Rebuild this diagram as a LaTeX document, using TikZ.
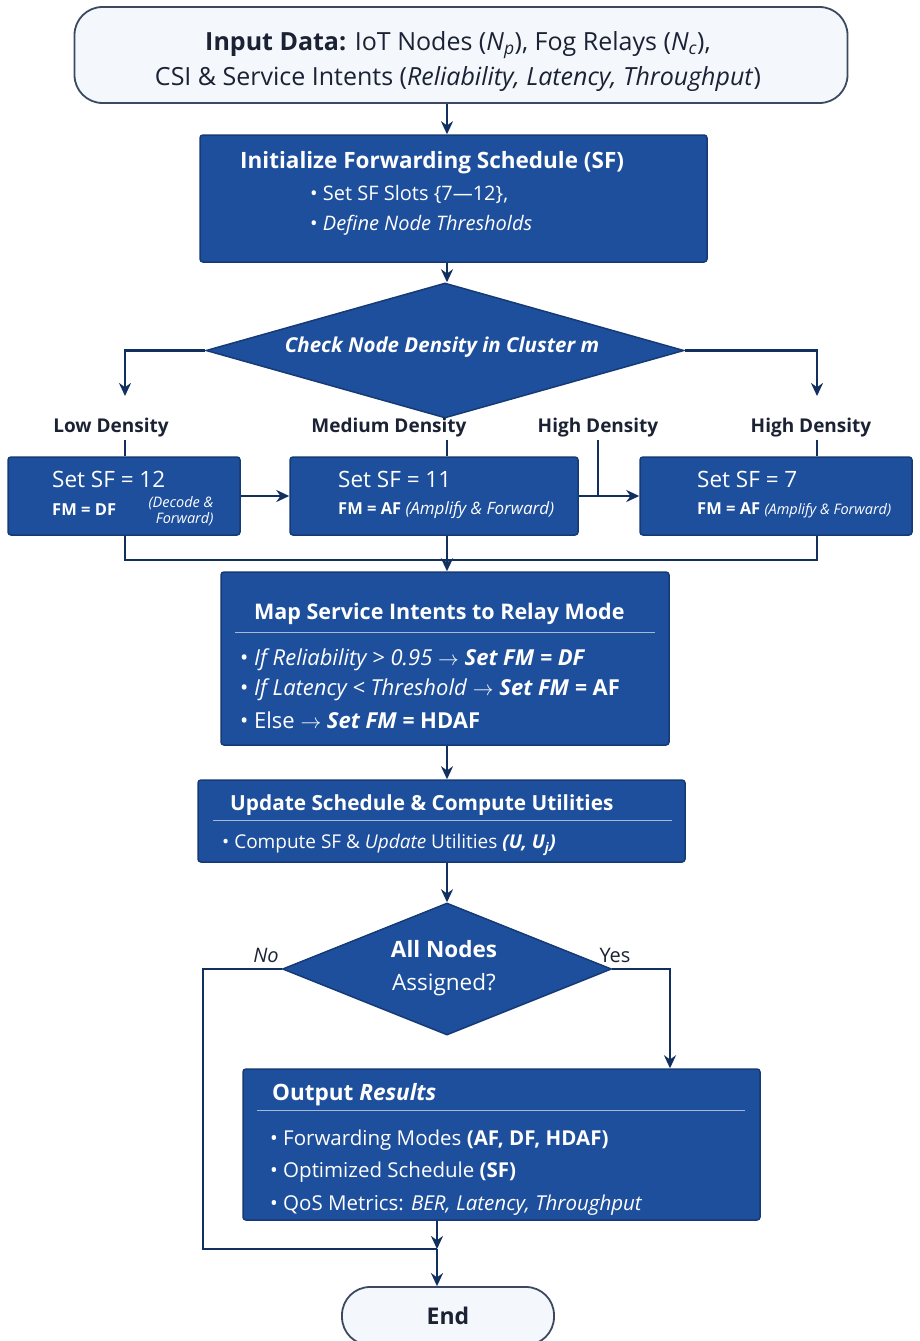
\documentclass[tikz,border=0pt]{standalone}
\usepackage{fontspec}
\setmainfont{Open Sans}
\usepackage{tikz}
\usetikzlibrary{positioning,calc,arrows.meta,shapes.geometric}
\tikzset{>={Stealth[length=13pt,width=12pt]}}
\definecolor{navy}{HTML}{12305F}
\definecolor{boxblue}{HTML}{1E4F9C}
\definecolor{boxedge}{HTML}{163A75}
\definecolor{paleblue}{HTML}{F4F7FC}
\definecolor{slate}{HTML}{3B4A60}
\definecolor{inktext}{HTML}{1A2233}
\tikzset{
  bluebox/.style={draw=boxedge,line width=1.5pt,fill=boxblue,rounded corners=3pt},
  palebox/.style={draw=slate,line width=1.8pt,fill=paleblue,text=inktext},
  decision/.style={diamond,draw=boxedge,line width=1.5pt,fill=boxblue,inner sep=0pt,text=white},
  flow/.style={draw=navy,line width=2.2pt},
  sepline/.style={draw=white!60!boxblue,line width=1pt},
  wtitle/.style={text=white,font=\bfseries\fontsize{21.5}{26}\selectfont,anchor=west,inner sep=0pt},
  wtext/.style={text=white,font=\fontsize{19}{23}\selectfont,anchor=west,inner sep=0pt},
  wset/.style={text=white,font=\fontsize{22.5}{26}\selectfont,anchor=west,inner sep=0pt},
  wfm/.style={text=white,font=\fontsize{16.5}{20}\selectfont,anchor=west,inner sep=0pt},
  branch/.style={text=inktext,font=\bfseries\fontsize{19}{23}\selectfont,inner sep=2pt},
}

\begin{document}
\begin{tikzpicture}[x=1pt,y=-1pt]
\useasboundingbox (0,0) rectangle (919,1341);
% columns for the branch lines
\coordinate (colL) at (125,0);
\coordinate (colM) at (447,0);
\coordinate (colH) at (598,0);
\coordinate (colR) at (817,0);
\coordinate (loopX) at (203,0);
\coordinate (yesX) at (670,0);
\coordinate (lowTip) at (125,396);
\coordinate (highTip) at (817,396);
\coordinate (merge) at (447,560);
\coordinate (join) at (437,1249);

% start
\node[palebox,rounded corners=28pt,minimum width=773pt,minimum height=96pt] (input) at (461,55) {};
\node[text=inktext,align=center,font=\fontsize{25}{35}\selectfont] (inputT) at (458,62)
  {\textbf{Input Data:} IoT Nodes (\textit{N}\textsubscript{\textit{p}}), Fog Relays (\textit{N}\textsubscript{\textit{c}}),\\
   CSI \& Service Intents (\textit{Reliability, Latency, Throughput})};

% schedule init
\node[bluebox,minimum width=507pt,minimum height=127pt] (init) at (453.5,198.5) {};
\node[wtitle,font=\bfseries\fontsize{22.5}{26}\selectfont] (initT) at (240,163) {Initialize Forwarding Schedule (SF)};
\node[wtext,font=\fontsize{20}{24}\selectfont] (initA) at (310,194) {\textbullet\ Set SF Slots \{7---12\},};
\node[wtext,font=\fontsize{20}{24}\selectfont] (initB) at (310,225) {\textbullet\ \textit{Define Node Thresholds}};

% density check
\node[decision,minimum width=478pt,minimum height=135pt] (density) at (445,350.5) {};
\node[text=white,font=\bfseries\itshape\fontsize{20.5}{24}\selectfont] (densityT) at (442,347) {Check Node Density in Cluster m};

\node[branch] (lowL) at (111,428) {Low Density};
\node[branch] (medL) at (389,428) {Medium Density};
\node[branch] (highM) at (598,428) {High Density};
\node[branch] (highR) at (811,428) {High Density};

\node[bluebox,minimum width=232pt,minimum height=78pt] (low) at (124,496) {};
\node[wset] (lowA) at (52,479) {Set SF = 12};
\node[wfm] (lowB) at (52,510) {\textbf{FM = DF}};
\node[text=white,align=right,inner sep=0pt,font=\itshape\fontsize{14.5}{16}\selectfont] (lowC) at (181,511) {(Decode \&\\Forward)};

\node[bluebox,minimum width=288pt,minimum height=78pt] (med) at (434,496) {};
\node[wset] (medA) at (338,479) {Set SF = 11};
\node[wfm] (medB) at (338,510) {\textbf{FM = AF} {\itshape\fontsize{17}{20}\selectfont (Amplify \& Forward)}};

\node[bluebox,minimum width=272pt,minimum height=78pt] (high) at (776,496) {};
\node[wset] (highA) at (697,479) {Set SF = 7};
\node[wfm] (highB) at (697,510) {\textbf{FM = AF} {\itshape\fontsize{14.5}{17}\selectfont(Amplify \& Forward)}};

% relay mode
\node[bluebox,minimum width=448pt,minimum height=173pt] (map) at (445,658.5) {};
\node[wtitle] (mapT) at (254,614) {Map Service Intents to Relay Mode};
\draw[sepline] (235,632) -- (655,632);
\node[wtext,font=\fontsize{22}{26}\selectfont] (mapA) at (240,660) {\textbullet\ \textit{If Reliability > 0.95} $\rightarrow$ \textbf{\textit{Set FM = DF}}};
\node[wtext,font=\fontsize{22}{26}\selectfont] (mapB) at (240,690) {\textbullet\ \textit{If Latency < Threshold} $\rightarrow$ \textbf{\textit{Set FM =} AF}};
\node[wtext,font=\fontsize{22}{26}\selectfont] (mapC) at (240,720) {\textbullet\ Else $\rightarrow$ \textbf{\textit{Set FM =} HDAF}};

% utilities
\node[bluebox,minimum width=487pt,minimum height=82pt] (update) at (441.5,821) {};
\node[wtitle,font=\bfseries\fontsize{20.8}{25}\selectfont] (updT) at (230,805) {Update Schedule \& Compute Utilities};
\draw[sepline] (213,820) -- (672,820);
\node[wtext] (updA) at (222,845) {\textbullet\ Compute SF \& \textit{Update} Utilities \textbf{\textit{(U, U\textsubscript{j})}}};

% all assigned?
\node[decision,minimum width=329pt,minimum height=132pt] (done) at (447,969) {};
\node[text=white,align=center,font=\fontsize{22.5}{33}\selectfont] (doneT) at (444,968) {\textbf{All Nodes}\\Assigned?};
\node[text=inktext,font=\itshape\fontsize{20}{24}\selectfont] (noL) at (266,955) {No};
\node[text=inktext,font=\fontsize{20}{24}\selectfont] (yesL) at (615,955) {Yes};

% results
\node[bluebox,minimum width=517pt,minimum height=151pt] (output) at (501.5,1144.5) {};
\node[wtitle,font=\bfseries\fontsize{22.5}{26}\selectfont] (outT) at (272,1095) {Output \textit{Results}};
\draw[sepline] (257,1110) -- (745,1110);
\node[wtext,font=\fontsize{20.5}{24}\selectfont] (outA) at (270,1140) {\textbullet\ Forwarding Modes \textbf{(AF, DF, HDAF)}};
\node[wtext,font=\fontsize{20.5}{24}\selectfont] (outB) at (270,1172) {\textbullet\ Optimized Schedule \textbf{(SF)}};
\node[wtext,font=\fontsize{20.5}{24}\selectfont] (outC) at (270,1205) {\textbullet\ QoS Metrics: \textit{BER, Latency, Throughput}};

\node[palebox,rounded corners=28pt,minimum width=212pt,minimum height=58pt,font=\bfseries\fontsize{23}{28}\selectfont] (end) at (448,1316) {End};

% connectors
\draw[flow,->] (colM |- input.south) -- (colM |- init.north);
\draw[flow,->] (colM |- init.south) -- (colM |- density.north);
\draw[flow,->] (density.west) -| (lowTip);
\draw[flow,->] (density.east) -| (highTip);
\draw[flow] (colL |- lowL.south) -- (colL |- low.north);
\draw[flow] (colM |- medL.south) -- (colM |- med.north);
\draw[flow] (colH |- highM.south) -- (colH |- med.east);
\draw[flow] (colR |- highR.south) -- (colR |- high.north);
\draw[flow,->] (low) -- (med);
\draw[flow,->] (med) -- (high);
\draw[flow] (colL |- low.south) |- (merge) -| (colR |- high.south);
\draw[flow,->] (colM |- med.south) -- (colM |- map.north);
\draw[flow,->] (colM |- map.south) -- (colM |- update.north);
\draw[flow,->] (colM |- update.south) -- (done.north);
\draw[flow,->] (done.east) -| (yesX |- output.north);
\draw[flow] (done.west) -| (loopX |- join) -- (join);
\draw[flow,->] (join |- output.south) -- (join);
\draw[flow,->] (join) -- (join |- end.north);
\end{tikzpicture}
\end{document}
